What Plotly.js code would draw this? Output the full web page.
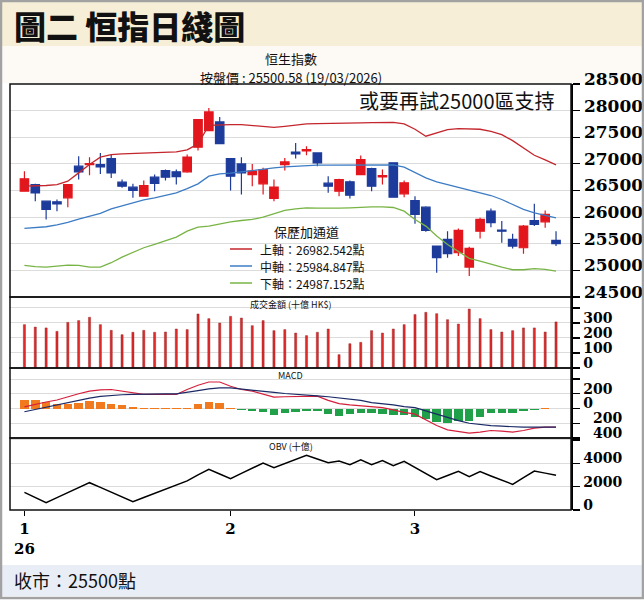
<!DOCTYPE html>
<html><head><meta charset="utf-8">
<script src="https://cdn.plot.ly/plotly-3.0.1.min.js"></script>
<style>html,body{margin:0;padding:0;background:#fff;}#chart{width:644px;height:600px;}</style>
</head><body><div id="chart"></div>
<script>
// ---- data ----
const openP  = [26487,26612,26300,26287,26362,26956,26987,26987,27100,26656,26562,26394,26750,26875,26850,26850,27312,27625,27787,27100,27000,26800,26625,26350,26987,27219,27244,27206,26637,26487,26662,26800,26912,26756,27019,26437,26312,26187,25456,25581,25331,25062,25737,26112,25756,25581,25425,25937,25912,25562];
const highP  = [26862,26625,26312,26330,26620,27144,27125,27206,27175,26706,26625,26687,26800,26894,26894,27175,27844,28050,27881,27100,27125,27000,26925,26706,27112,27394,27331,27206,26769,26719,26687,27156,26925,26894,27019,26687,26394,26206,25456,25737,25787,25444,25987,26162,25925,25687,25850,26250,26125,25737];
const lowP   = [26475,26300,25956,26112,26187,26706,26787,26812,26737,26550,26362,26381,26487,26687,26612,26831,27250,27612,27375,26500,26425,26581,26425,26300,26875,27100,27162,26956,26456,26394,26350,26787,26487,26612,26375,26375,25875,25725,24956,25237,25269,24894,25600,25812,25519,25412,25312,25831,25800,25456];
const closeP = [26719,26456,26144,26250,26612,26850,27006,26944,26831,26581,26500,26594,26631,26750,26762,27125,27831,27975,27381,26769,26831,26862,26894,26562,27037,27187,27269,27019,26581,26706,26412,27081,26581,26781,26375,26644,26050,25750,25237,25312,25750,25412,25956,25894,25737,25456,25831,25862,26050,25500.58];
const bollUpper = [26581,26581,26594,26612,26675,26831,26987,27125,27175,27187,27194,27200,27206,27212,27225,27262,27375,27725,27737,27737,27737,27725,27706,27687,27706,27731,27750,27756,27756,27762,27769,27769,27775,27781,27781,27750,27650,27519,27581,27644,27662,27662,27650,27612,27550,27437,27300,27162,27075,26982.542];
const bollMid   = [25787,25800,25819,25856,25900,25962,26019,26069,26156,26212,26256,26325,26362,26412,26456,26537,26625,26769,26812,26825,26850,26881,26912,26925,26944,26956,26969,26975,26975,26975,26981,26981,26981,26981,26981,26937,26837,26737,26662,26612,26569,26506,26456,26406,26331,26237,26144,26081,26037,25984.847];
const bollLower = [25094,25069,25062,25081,25100,25094,25062,25062,25144,25250,25344,25425,25487,25550,25625,25737,25812,25831,25875,25912,25937,25956,26000,26062,26125,26156,26175,26169,26162,26169,26175,26187,26194,26194,26181,26112,25956,25831,25644,25487,25362,25225,25175,25112,25062,25012,25012,25031,25019,24987.152];
const turnover  = [289,273,267,244,304,316,338,289,251,222,238,251,238,240,260,256,360,329,300,344,333,282,316,249,256,233,216,238,260,89,162,171,249,233,260,289,356,371,362,322,293,393,329,256,240,249,267,267,240,307];
const macdDif   = [22,58,89,116,160,200,236,253,258,236,213,191,191,191,191,258,316,360,360,302,258,236,191,156,160,164,169,169,111,67,49,40,27,13,-18,-53,-76,-151,-231,-289,-311,-333,-320,-298,-307,-320,-298,-267,-253,-253];
const macdDea   = [-44,-13,22,53,84,120,142,164,178,187,191,196,196,200,200,218,244,267,280,280,267,249,231,218,204,196,187,173,160,142,124,111,80,67,49,27,13,-31,-76,-129,-164,-200,-218,-231,-240,-249,-253,-253,-253,-253];
const macdHist  = [111,116,93,67,58,80,102,93,67,49,18,9,4,4,4,9,58,93,71,13,-22,-31,-44,-84,-67,-53,-31,-31,-76,-98,-76,-67,-67,-76,-89,-89,-111,-142,-187,-200,-164,-173,-120,-67,-67,-67,-40,-18,13,-4];
const obv       = [1510,1070,630,1060,1490,1910,2340,1940,1530,1120,710,1070,1410,1760,2130,2490,3010,3480,3090,2690,3140,3580,4030,3630,3980,4330,4690,4370,4060,4200,3890,4310,3890,4230,3800,4170,3650,3120,2600,2960,3310,2860,3290,2920,2560,2200,2770,3340,3160,2970];
const monthTickPos  = [0, 19, 36];
const monthTickText = ['1<br>26', '2', '3'];
const priceTicks = [24500,25000,25500,26000,26500,27000,27500,28000,28500];
const volTicks = [0,100,200,300,400];
const volTickText = ['0','100','200','300',''];
const macdTicks = [-400,-200,0,200,400];
const macdTickText = ['\u2007400','\u2007200','0','200',''];
const obvTicks = [0,2000,4000,6000];
const obvTickText = ['0','2000','4000',''];
const bandNames = ['上軸：26982.542點','中軸：25984.847點','下軸：24987.152點'];
const bandColors = ['#c4262d', '#3d7cc4', '#78b445'];

const dayIdx = closeP.map((_, i) => i);

// ---- geometry helpers (pixels -> paper) ----
const L = 10, R = 571, T = 84, B = 510;
const px = x => (x - L) / (R - L);
const py = y => (B - y) / (B - T);

const cjk = 'Noto Sans CJK TC, Noto Sans, sans-serif';
const serifB = {family: 'DejaVu Serif', size: 17, color: '#000', weight: 'bold'};
const serifS = {family: 'DejaVu Serif', size: 14, color: '#000', weight: 'bold'};

const traces = [
  {type: 'candlestick', x: dayIdx, open: openP, high: highP, low: lowP, close: closeP,
   xaxis: 'x', yaxis: 'y', showlegend: false, whiskerwidth: 0,
   increasing: {line: {color: '#e3161d', width: 1.2}, fillcolor: '#e3161d'},
   decreasing: {line: {color: '#1d3b9b', width: 1.2}, fillcolor: '#1d3b9b'}},
  {type: 'scatter', mode: 'lines', x: dayIdx, y: bollUpper, name: bandNames[0], xaxis: 'x', yaxis: 'y',
   showlegend: false, line: {color: bandColors[0], width: 1.3}},
  {type: 'scatter', mode: 'lines', x: dayIdx, y: bollMid, name: bandNames[1], xaxis: 'x', yaxis: 'y',
   showlegend: false, line: {color: bandColors[1], width: 1.3}},
  {type: 'scatter', mode: 'lines', x: dayIdx, y: bollLower, name: bandNames[2], xaxis: 'x', yaxis: 'y',
   showlegend: false, line: {color: bandColors[2], width: 1.3}},
  {type: 'bar', x: dayIdx, y: turnover, xaxis: 'x', yaxis: 'y2', width: 0.2, showlegend: false,
   marker: {color: '#e02a2a', line: {color: '#8c1f1f', width: 0.4}}},
  {type: 'bar', x: dayIdx, y: macdHist, xaxis: 'x', yaxis: 'y3', width: 0.78, showlegend: false,
   marker: {color: macdHist.map(v => v >= 0 ? '#f27a1e' : '#20a049')}},
  {type: 'scatter', mode: 'lines', x: dayIdx, y: macdDif, xaxis: 'x', yaxis: 'y3', showlegend: false,
   line: {color: '#d4203c', width: 1.2}},
  {type: 'scatter', mode: 'lines', x: dayIdx, y: macdDea, xaxis: 'x', yaxis: 'y3', showlegend: false,
   line: {color: '#1b2a66', width: 1.2}},
  {type: 'scatter', mode: 'lines', x: dayIdx, y: obv, xaxis: 'x', yaxis: 'y4', showlegend: false,
   line: {color: '#000', width: 1.5}}
];

const yCommon = {side: 'right', anchor: 'x', ticks: 'outside', ticklen: 7, tickcolor: '#000', tickwidth: 1.2,
  showline: true, linecolor: '#000', linewidth: 1.5, gridcolor: '#dcdcdc', gridwidth: 1, zeroline: false,
  ticklabelshift: -5, ticklabelstandoff: 1, fixedrange: true, tickmode: 'array'};

const dom = {
  main: [py(297), 1],
  vol: [py(368), py(297)],
  macd: [py(438), py(368)],
  obv: [0, py(438)]
};

const panelRect = (yref) => ({type: 'rect', xref: 'x domain', yref: yref + ' domain', x0: 0, x1: 1, y0: 0, y1: 1,
  line: {color: '#111', width: 1.5}, fillcolor: 'rgba(0,0,0,0)', layer: 'above'});

const ann = (x, y, text, size, extra) => Object.assign({xref: 'paper', yref: 'paper', x: x, y: y,
  xanchor: 'center', yanchor: 'middle', showarrow: false, text: text, borderpad: 0,
  font: {family: cjk, size: size, color: '#111'}}, extra || {});

// hand-built band key (Bollinger legend)
const keyRows = [249, 266, 283];
const keyShapes = keyRows.map((yy, k) => ({type: 'line', xref: 'paper', yref: 'paper',
  x0: px(230), x1: px(252), y0: py(yy), y1: py(yy), line: {color: bandColors[k], width: 1.5}}));
const keyTexts = keyRows.map((yy, k) => ann(px(259), py(yy), bandNames[k], 12, {xanchor: 'left'}));

const layout = {
  width: 644, height: 600,
  margin: {l: L, r: 644 - R, t: T, b: 600 - B},
  paper_bgcolor: '#ffffff', plot_bgcolor: '#ffffff',
  showlegend: false,
  boxgap: 0.22, boxgroupgap: 0, bargap: 0,
  xaxis: {domain: [0, 1], anchor: 'y4', range: [-1.33, 50.38], tickmode: 'array', tickvals: monthTickPos,
    ticktext: monthTickText, ticks: 'outside', ticklen: 5, tickcolor: '#000', showgrid: false, zeroline: false,
    showline: false, tickfont: {family: 'DejaVu Serif', size: 15, color: '#000', weight: 'bold'},
    fixedrange: true, rangeslider: {visible: false}},
  yaxis: Object.assign({}, yCommon, {domain: dom.main, range: [24500, 28500], tickvals: priceTicks,
    ticktext: priceTicks.map(String), tickfont: serifB}),
  yaxis2: Object.assign({}, yCommon, {domain: dom.vol, range: [0, 473], tickvals: volTicks, ticktext: volTickText, tickfont: serifS}),
  yaxis3: Object.assign({}, yCommon, {domain: dom.macd, range: [-400, 550], tickvals: macdTicks, ticktext: macdTickText, tickfont: serifS}),
  yaxis4: Object.assign({}, yCommon, {domain: dom.obv, range: [0, 6170], tickvals: obvTicks, ticktext: obvTickText, tickfont: serifS}),
  shapes: [
    {type: 'rect', xref: 'paper', yref: 'paper', x0: px(2), x1: px(642), y0: py(46), y1: py(2), fillcolor: '#f6eed6', line: {width: 0}, layer: 'below'},
    {type: 'rect', xref: 'paper', yref: 'paper', x0: px(2), x1: px(642), y0: py(83), y1: py(46), fillcolor: '#fdf9f4', line: {width: 0}, layer: 'below'},
    {type: 'rect', xref: 'paper', yref: 'paper', x0: px(2), x1: px(642), y0: py(596), y1: py(565), fillcolor: '#e9eef6', line: {width: 0}, layer: 'below'},
    {type: 'rect', xref: 'paper', yref: 'paper', x0: px(1), x1: px(643), y0: py(598), y1: py(1), fillcolor: 'rgba(0,0,0,0)', line: {color: '#a2a2a2', width: 2.5}, layer: 'above'},
    panelRect('y'), panelRect('y2'), panelRect('y3'), panelRect('y4')
  ].concat(keyShapes),
  annotations: [
    ann(px(13), py(25), '圖二 恒指日綫圖', 32, {xanchor: 'left', font: {family: cjk, size: 32, color: '#111', weight: 900}}),
    ann(0.5, py(59), '恒生指數', 13),
    ann(0.5, py(77), '按盤價 : 25500.58 (19/03/2026)', 13),
    ann(px(556), py(100), '或要再試25000區支持', 20, {xanchor: 'right'}),
    ann(px(306), py(231), '保歷加通道', 13),
    ann(0.5, py(304), '成交金額 (十億 HK$)', 9),
    ann(0.5, py(375), 'MACD', 9),
    ann(0.5, py(446), 'OBV (十億)', 9),
    ann(px(13), py(580), '收市：25500點', 18, {xanchor: 'left'})
  ].concat(keyTexts)
};

Plotly.newPlot('chart', traces, layout, {staticPlot: true, displayModeBar: false});
</script></body></html>
